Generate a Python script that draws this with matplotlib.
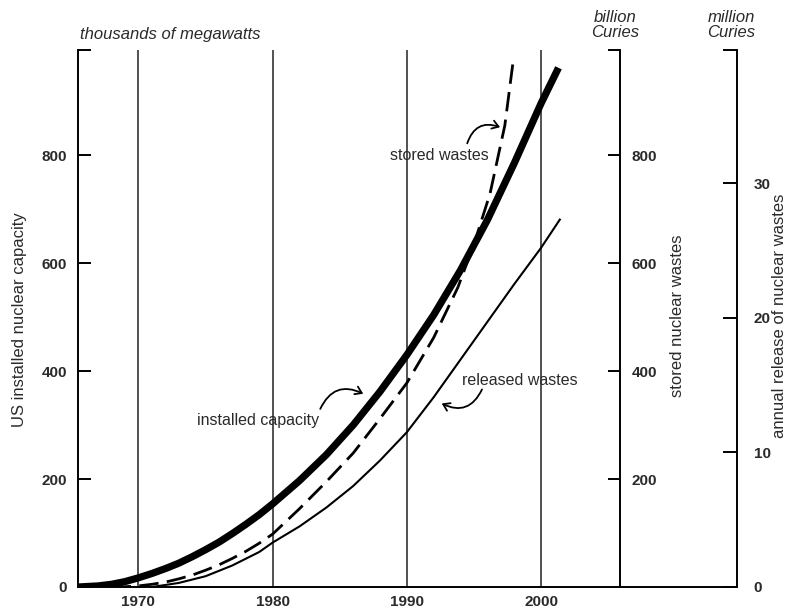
import matplotlib
matplotlib.use("Agg")
import matplotlib.pyplot as plt

plt.rcParams['font.family'] = ['Liberation Sans', 'DejaVu Sans']

# ---- data ----
installed_years = [1965.5, 1967, 1968, 1969, 1970, 1971, 1972, 1973, 1974, 1975, 1976, 1977, 1978, 1979,
                   1980, 1982, 1984, 1986, 1988, 1990, 1992, 1994, 1996, 1998, 2000, 2001.3]
installed_vals  = [0, 2, 5, 10, 17, 25, 34, 44, 56, 69, 83, 99, 116, 134,
                   154, 197, 245, 300, 362, 430, 504, 587, 680, 785, 896, 962]

stored_years = [1968, 1969, 1970, 1971, 1972, 1973, 1974, 1975, 1976, 1977, 1978, 1979, 1980, 1982, 1984,
                1986, 1988, 1990, 1992, 1993.8, 1995, 1996.2, 1997.3, 1997.9]
stored_vals  = [0, 0.5, 2, 5, 9, 15, 22, 31, 41, 53, 66, 81, 98, 145, 195,
                248, 312, 378, 462, 555, 635, 729, 855, 970]

released_years = [1971, 1973, 1975, 1977, 1979, 1980, 1982, 1984, 1986, 1988, 1990, 1992, 1994,
                  1996, 1998, 2000, 2001.4]
released_vals  = [0, 0.3, 0.8, 1.6, 2.6, 3.3, 4.5, 5.9, 7.5, 9.4, 11.5, 14.1, 16.9,
                  19.7, 22.5, 25.2, 27.3]

year_ticks = [1970, 1980, 1990, 2000]
left_ticks = [0, 200, 400, 600, 800]
stored_ticks = [200, 400, 600, 800]
released_ticks = [0, 10, 20, 30]

XMIN, XMAX = 1965.5, 2014.6
STORED_AXIS_X = 2005.9
YMAX_LEFT = 995
YMAX_REL = 39.9

TXT = '#2a2a2a'

fig = plt.figure(figsize=(7.88, 6.10), dpi=100)
ax = fig.add_axes([78/788, 1-587/610, (737-78)/788, (587-50)/610])
ax2 = ax.twinx()
ax3 = ax.twinx()

ax.set_xlim(XMIN, XMAX)
ax.set_ylim(0, YMAX_LEFT)
ax2.set_ylim(0, YMAX_LEFT)
ax3.set_ylim(0, YMAX_REL)

# vertical grid lines
for yr in year_ticks:
    ax.axvline(yr, color='#222222', lw=1.1, zorder=1)

# curves
ax.plot(installed_years, installed_vals, color='black', lw=5.2, solid_capstyle='butt',
        solid_joinstyle='round', zorder=3)
ax2.plot(stored_years, stored_vals, color='black', lw=2.0, dashes=(7, 3), zorder=3)
ax3.plot(released_years, released_vals, color='black', lw=1.5, zorder=3)

lw_sp = 1.4
# main axes spines
for s in ['top', 'right']:
    ax.spines[s].set_visible(False)
ax.spines['left'].set_linewidth(lw_sp)
ax.spines['bottom'].set_linewidth(lw_sp)
ax.set_xticks(year_ticks)
ax.set_xticklabels([str(y) for y in year_ticks], fontweight='bold', fontsize=11, color=TXT)
ax.tick_params(axis='x', length=0, pad=6)
ax.set_yticks(left_ticks + [YMAX_LEFT])
ax.set_yticklabels([str(v) for v in left_ticks] + [''], fontweight='bold', fontsize=11, color=TXT)
ax.tick_params(axis='y', direction='in', length=9, width=lw_sp, pad=8)

# stored axis
for s in ['top', 'left', 'bottom']:
    ax2.spines[s].set_visible(False)
ax2.spines['right'].set_position(('data', STORED_AXIS_X))
ax2.spines['right'].set_linewidth(lw_sp)
ax2.set_yticks(stored_ticks + [YMAX_LEFT])
ax2.set_yticklabels([str(v) for v in stored_ticks] + [''], fontweight='bold', fontsize=11, color=TXT)
ax2.tick_params(axis='y', direction='in', length=9, width=lw_sp, pad=8)

# released axis
for s in ['top', 'left', 'bottom']:
    ax3.spines[s].set_visible(False)
ax3.spines['right'].set_linewidth(lw_sp)
ax3.set_yticks(released_ticks + [YMAX_REL])
ax3.set_yticklabels([str(v) for v in released_ticks] + [''], fontweight='bold', fontsize=11, color=TXT)
ax3.tick_params(axis='y', direction='in', length=10, width=lw_sp, pad=12)

# unit titles
fig.text(80/788, 1-34/610, 'thousands of megawatts', style='italic', fontsize=12,
         color=TXT, ha='left', va='center')
fig.text(615/788, 1-25/610, 'billion\nCuries', style='italic', fontsize=12,
         color=TXT, ha='center', va='center', linespacing=1.0)
fig.text(731/788, 1-25/610, 'million\nCuries', style='italic', fontsize=12,
         color=TXT, ha='center', va='center', linespacing=1.0)

# axis labels
fig.text(20/788, 1-320/610, 'US installed nuclear capacity', rotation=90, fontsize=12,
         color=TXT, ha='center', va='center')
fig.text(677/788, 1-316/610, 'stored nuclear wastes', rotation=90, fontsize=12,
         color=TXT, ha='center', va='center')
fig.text(780/788, 1-316/610, 'annual release of nuclear wastes', rotation=90, fontsize=12,
         color=TXT, ha='center', va='center')

# annotations
ax.text(1988.75, 800, 'stored wastes', fontsize=11.5, color=TXT, ha='left', va='center')
ax.text(1974.4, 308, 'installed capacity', fontsize=11.5, color=TXT, ha='left', va='center')
ax.text(1994.1, 382, 'released wastes', fontsize=11.5, color=TXT, ha='left', va='center')

aprops = dict(arrowstyle='->,head_length=0.45,head_width=0.3', lw=1.3, color='black',
              shrinkA=0, shrinkB=0)
ax.annotate('', xy=(1996.95, 852), xytext=(1994.5, 822),
            arrowprops=dict(aprops, connectionstyle='arc3,rad=-0.5'))
ax.annotate('', xy=(1986.75, 358), xytext=(1983.55, 330),
            arrowprops=dict(aprops, connectionstyle='arc3,rad=-0.5'))
ax.annotate('', xy=(1992.6, 340), xytext=(1995.6, 366),
            arrowprops=dict(aprops, connectionstyle='arc3,rad=-0.5'))

fig.savefig('out.png', dpi=100)
